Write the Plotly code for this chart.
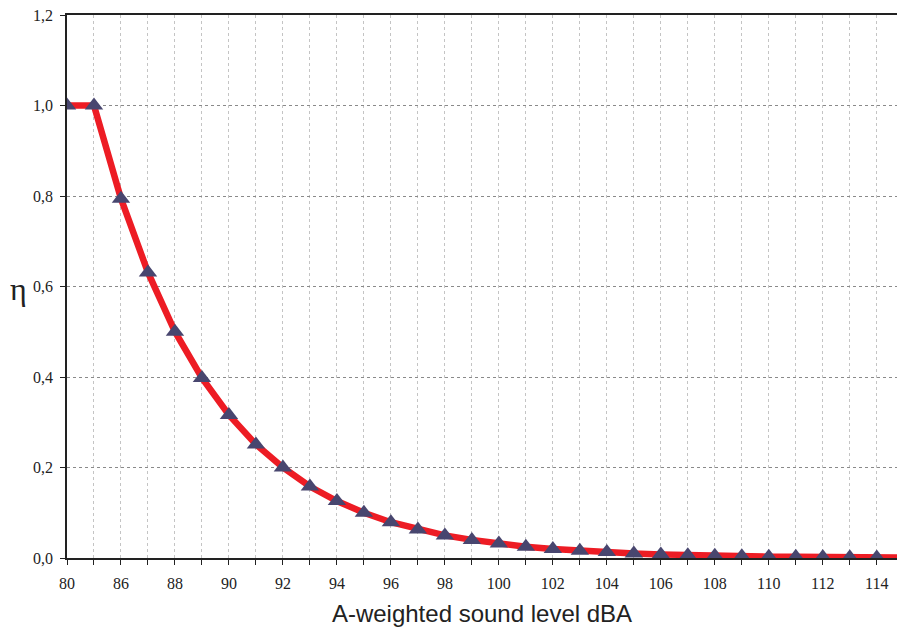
import plotly.graph_objects as go

# categories (A-weighted sound level, dBA) - categorical axis
levels = [80, 85, 86, 87, 88, 89, 90, 91, 92, 93, 94, 95, 96, 97, 98, 99,
          100, 101, 102, 103, 104, 105, 106, 107, 108, 109, 110, 111, 112, 113, 114, 115]
eta = [1.0, 1.0, 0.794, 0.631, 0.5, 0.398, 0.316, 0.251, 0.2, 0.158, 0.126, 0.1,
       0.079, 0.063, 0.05, 0.04, 0.032, 0.025, 0.02, 0.016, 0.013, 0.01,
       0.008, 0.006, 0.005, 0.004, 0.003, 0.0025, 0.002, 0.0016, 0.0013, 0.001]

cats = [str(v) for v in levels]
tick_text = [c if i % 2 == 0 else "" for i, c in enumerate(cats)]

serif = "Liberation Serif, DejaVu Serif, serif"

fig = go.Figure()
fig.add_trace(go.Scatter(
    x=cats, y=eta, mode="lines+markers",
    line=dict(color="#ed1c24", width=6.5),
    marker=dict(symbol="triangle-up", size=16, color="#48466f"),
    cliponaxis=True,
))

fig.update_layout(
    width=898, height=630,
    margin=dict(l=67, r=1, t=15, b=72),
    plot_bgcolor="white", paper_bgcolor="white",
    showlegend=False,
    separators=",.",
    font=dict(family=serif, size=16, color="#222"),
)
fig.update_xaxes(
    type="category", categoryorder="array", categoryarray=cats,
    range=[0, 30.75],
    tickmode="array", tickvals=cats, ticktext=tick_text,
    ticks="outside", ticklen=5, tickcolor="#222",
    showline=True, linecolor="#222", linewidth=1.5, mirror=True,
    showgrid=True, gridcolor="#c4c4c4", griddash="dot", gridwidth=1,
    tickfont=dict(family=serif, size=16, color="#222"),
    ticklabelstandoff=5,
    title=dict(text="A-weighted sound level dBA",
               font=dict(family="Liberation Sans, Arial, sans-serif", size=24, color="#222"),
               standoff=14),
)
fig.update_yaxes(
    range=[0, 1.2], tickvals=[0, 0.2, 0.4, 0.6, 0.8, 1.0, 1.2], tickformat=".1f",
    ticks="outside", ticklen=5, tickcolor="#222",
    showline=True, linecolor="#222", linewidth=1.5,
    showgrid=True, gridcolor="#8a8a8a", griddash="dot", gridwidth=1,
    zeroline=False,
    tickfont=dict(family=serif, size=16, color="#222"),
    ticklabelstandoff=4,
)
fig.add_annotation(
    text="η", xref="paper", yref="paper", x=-0.058, y=0.495,
    xanchor="center", yanchor="middle", showarrow=False,
    font=dict(family=serif, size=32, color="#222"),
)

fig.write_html("out.html")
